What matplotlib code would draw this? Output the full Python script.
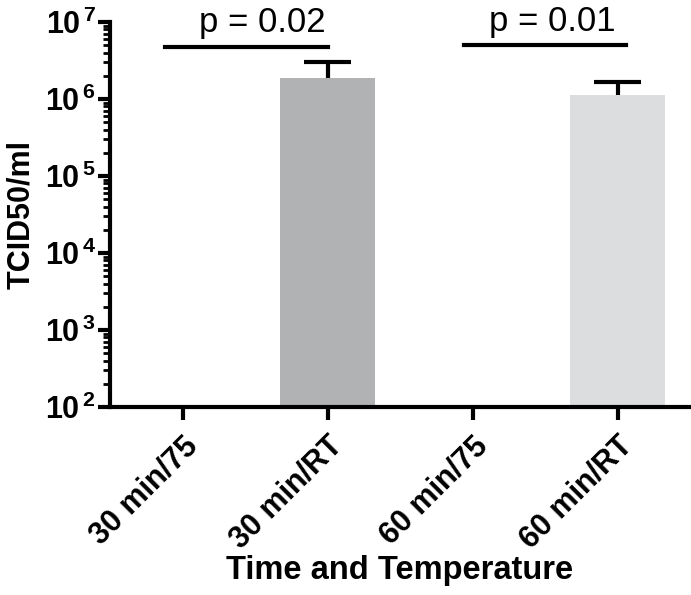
import numpy as np
import matplotlib
matplotlib.use("Agg")
import matplotlib.pyplot as plt
from matplotlib.ticker import LogLocator, FuncFormatter

plt.rcParams['font.family'] = ['Liberation Sans', 'DejaVu Sans']
plt.rcParams['mathtext.fontset'] = 'custom'
plt.rcParams['mathtext.rm'] = 'Liberation Sans:bold'
plt.rcParams['mathtext.bf'] = 'Liberation Sans:bold'

groups = ['30 min/75', '30 min/RT', '60 min/75', '60 min/RT']
titers = np.array([np.nan, 1.87e6, np.nan, 1.12e6])
upper_err = np.array([np.nan, 1.13e6, np.nan, 0.54e6])
bar_colors = ['#b1b2b4', '#b1b2b4', '#dcdddf', '#dcdddf']

comparisons = [(-0.12, 1.0, 4.73e6, 0.55, 'p = 0.02'),
               (1.94, 3.06, 5.0e6, 2.55, 'p = 0.01')]

fig = plt.figure(figsize=(6.91, 5.95), dpi=100)
ax = fig.add_axes([110 / 691, 1 - 407 / 595, 580 / 691, 385 / 595])

x = np.arange(len(groups))
ax.bar(x, titers, width=0.65, color=bar_colors, bottom=0)

# upper error bars only (stem + cap)
tops = titers + upper_err
ok = ~np.isnan(titers)
ax.vlines(x[ok], titers[ok], tops[ok], color='black', lw=3)
ax.hlines(tops[ok], x[ok] - 0.165, x[ok] + 0.165, color='black', lw=3)

ax.set_yscale('log')
ax.set_ylim(1e2, 1e7)
ax.set_xlim(-0.5, 3.5)

for x0, x1, yl, xt, label in comparisons:
    ax.plot([x0, x1], [yl, yl], color='black', lw=3, clip_on=False)
    ax.text(xt, yl * 1.55, label, ha='center', va='baseline', fontsize=25)

ax.spines['top'].set_visible(False)
ax.spines['right'].set_visible(False)
ax.spines['left'].set_linewidth(3)
ax.spines['bottom'].set_linewidth(3)

ax.yaxis.set_major_locator(LogLocator(base=10, numticks=10))
ax.yaxis.set_minor_locator(LogLocator(base=10, subs=np.arange(2, 10), numticks=10))
ax.yaxis.set_major_formatter(
    FuncFormatter(lambda v, p: r'$\mathbf{10^{\,%d}}$' % round(np.log10(v))))
ax.tick_params(axis='y', which='major', length=9, width=3, labelsize=22, pad=1)
ax.tick_params(axis='y', which='minor', length=5, width=2)

ax.set_xticks(x)
ax.set_xticklabels(groups, rotation=45, ha='right', rotation_mode='anchor',
                   fontsize=22, fontweight='bold')
ax.tick_params(axis='x', length=9, width=3, pad=8)

ax.set_ylabel('TCID50/ml', fontsize=22, fontweight='bold')
ax.yaxis.set_label_coords(-0.127, 0.5)
ax.set_xlabel('Time and Temperature', fontsize=23.5, fontweight='bold', labelpad=0)

fig.savefig('out.png', dpi=100)
